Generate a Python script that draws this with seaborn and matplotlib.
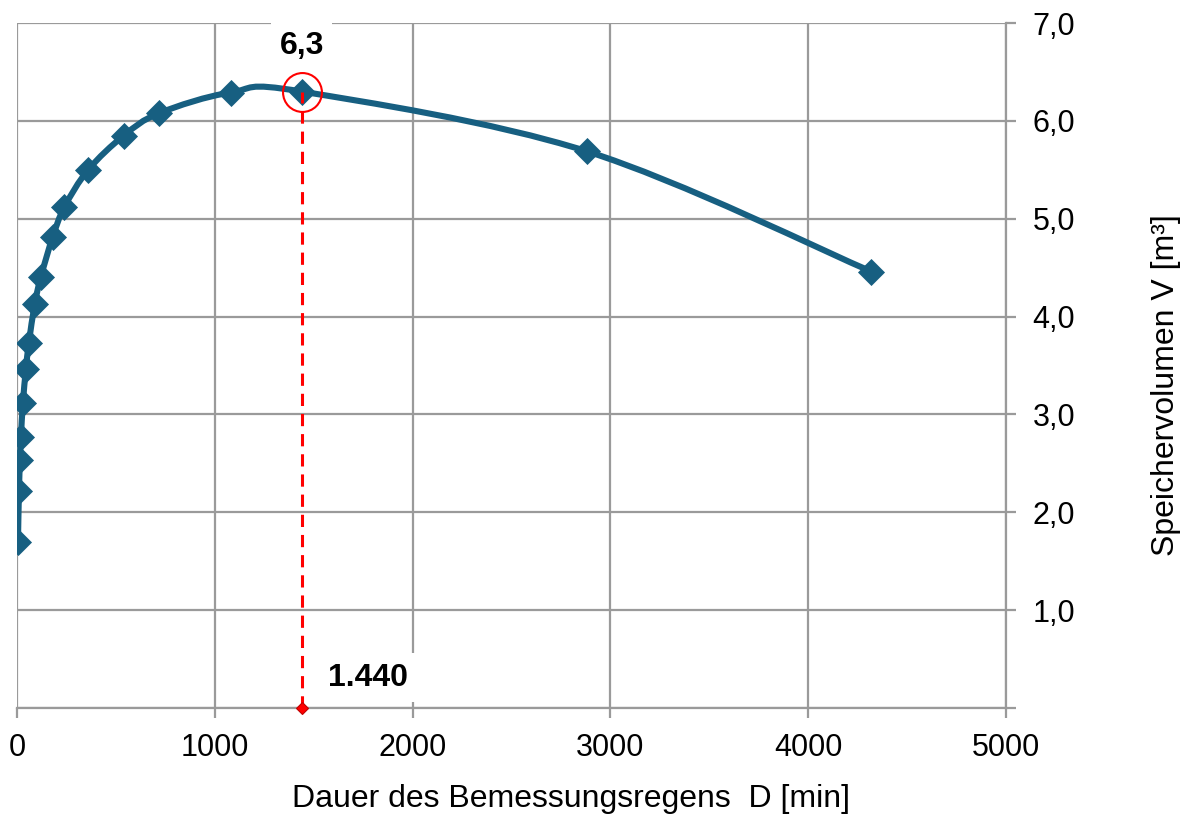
import numpy as np
import matplotlib
matplotlib.use("Agg")
import matplotlib.pyplot as plt
from matplotlib.path import Path
from matplotlib.patches import PathPatch
import seaborn as sns

# Data
dauer_min = [5, 10, 15, 20, 30, 45, 60, 90, 120, 180, 240, 360, 540, 720, 1080, 1440, 2880, 4320]
volumen_m3 = [1.70, 2.22, 2.53, 2.77, 3.12, 3.46, 3.73, 4.13, 4.40, 4.81, 5.12, 5.50, 5.85,
              6.08, 6.29, 6.30, 5.69, 4.46]
max_dauer = 1440
max_volumen = 6.3
x_ticks = [0, 1000, 2000, 3000, 4000, 5000]
y_ticks = [0, 1, 2, 3, 4, 5, 6, 7]
y_tick_labels = ["", "1,0", "2,0", "3,0", "4,0", "5,0", "6,0", "7,0"]

blue = "#175f81"
grid_grey = "#9a9a9a"

sns.set_style("white")
plt.rcParams["font.family"] = ["Liberation Sans", "DejaVu Sans"]
plt.rcParams["text.color"] = "black"
plt.rcParams["axes.labelcolor"] = "black"
plt.rcParams["xtick.labelcolor"] = "black"
plt.rcParams["ytick.labelcolor"] = "black"

fig = plt.figure(figsize=(11.87, 8.14), dpi=100)
ax = fig.add_axes([0.0143, 0.1302, 0.8332, 0.8415])

# smoothed line like Excel (Catmull-Rom as cubic Bezier segments)
pts = np.column_stack([dauer_min, volumen_m3])
verts = [pts[0]]
codes = [Path.MOVETO]
for i in range(len(pts) - 1):
    p0 = pts[i - 1] if i > 0 else pts[i]
    p1 = pts[i]
    p2 = pts[i + 1]
    p3 = pts[i + 2] if i + 2 < len(pts) else pts[i + 1]
    verts += [p1 + (p2 - p0) / 6, p2 - (p3 - p1) / 6, p2]
    codes += [Path.CURVE4] * 3
ax.add_patch(PathPatch(Path(verts, codes), facecolor="none", edgecolor=blue,
                       lw=4.4, capstyle="round", joinstyle="round", zorder=3))

sns.scatterplot(x=dauer_min, y=volumen_m3, marker="D", s=190, color=blue,
                edgecolor=blue, linewidth=0, zorder=4, ax=ax)

# maximum marker
ax.plot([max_dauer, max_dauer], [0, max_volumen], color="#ff0000", lw=2.2,
        linestyle=(0, (4, 2.6)), zorder=5)
ax.plot([max_dauer], [max_volumen], marker="o", markersize=28, markerfacecolor="none",
        markeredgecolor="#ff0000", markeredgewidth=1.5, zorder=6)
ax.plot([max_dauer], [0], marker="D", markersize=6.5, color="#ff0000",
        markeredgecolor="#c00000", markeredgewidth=0.8, zorder=6, clip_on=False)

ax.text(max_dauer, 6.77, "6,3", ha="center", va="center", fontsize=23, fontweight="bold",
        bbox=dict(facecolor="white", edgecolor="none", pad=6), zorder=7)
ax.text(1775, 0.31, "1.440", ha="center", va="center", fontsize=23, fontweight="bold",
        bbox=dict(facecolor="white", edgecolor="none", pad=7), zorder=7)

ax.set_xlim(0, 5000)
ax.set_ylim(0, 7)
ax.set_xticks(x_ticks)
ax.set_xticklabels([str(t) for t in x_ticks])
ax.yaxis.tick_right()
ax.yaxis.set_label_position("right")
ax.set_yticks(y_ticks)
ax.set_yticklabels(y_tick_labels)

ax.grid(True, color=grid_grey, lw=1.6, zorder=0)
ax.set_axisbelow(True)
for side in ["left", "top"]:
    ax.spines[side].set_visible(False)
for side in ["right", "bottom"]:
    ax.spines[side].set_color(grid_grey)
    ax.spines[side].set_linewidth(1.6)

ax.tick_params(axis="x", direction="out", length=7, width=1.6, color=grid_grey,
               labelsize=22, pad=11, bottom=True)
ax.tick_params(axis="y", direction="out", length=7, width=1.6, color=grid_grey,
               labelsize=22, pad=12, right=True, left=False)

ax.set_xlabel("Dauer des Bemessungsregens  D [min]", fontsize=23, labelpad=15)
ax.xaxis.label.set_x(0.56)
ax.set_ylabel("Speichervolumen V [m³]", fontsize=23, labelpad=55, rotation=90)
ax.yaxis.label.set_y(0.4715)

fig.savefig("out.png", dpi=100)
